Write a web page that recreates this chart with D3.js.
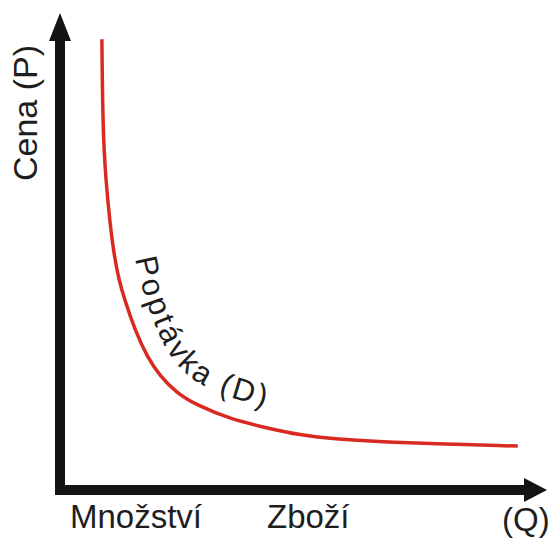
<!DOCTYPE html>
<head>
  <meta charset="utf-8">
  <script src="https://d3js.org/d3.v7.min.js"></script>
  <style>
    body { margin:0; padding:0; background:#fff; }
    text { font-family: "Liberation Sans", Arial, sans-serif; fill:#1e1e1e; }
  </style>
</head>
<body>
  <svg id="chart" width="553" height="539"></svg>
  <script>
    var width  = 553;
    var height = 539;

    // demand curve (quantity, price), 0..100 on both axes
    var quantity = [8.6, 8.8, 9.4, 10.3, 11.1, 12.1, 13.3, 15.4, 17.9, 20.5, 24.0, 28.1, 34.9, 42.5, 49.3, 56.1, 69.8, 94.0];
    var price    = [94.5, 75.5, 65.0, 55.6, 49.3, 44.0, 39.8, 33.5, 27.9, 23.9, 20.3, 17.8, 14.9, 13.0, 11.5, 10.7, 9.9, 9.2];

    var yTitle   = "Cena (P)";
    var xLabels  = ["Množství", "Zboží", "(Q)"];
    var curveLabel = "Poptávka (D)";

    var svg = d3.select("#chart");

    var x = d3.scaleLinear().domain([0, 100]).range([60, 547]);
    var y = d3.scaleLinear().domain([0, 100]).range([490, 13]);

    var points = quantity.map(function(q, i) { return [q, price[i]]; });

    var line = d3.line()
        .x(function(d) { return x(d[0]); })
        .y(function(d) { return y(d[1]); })
        .curve(d3.curveBasis);

    var demand = svg.append("path")
        .attr("d", line(points))
        .attr("fill", "none")
        .attr("stroke", "#d92a22")
        .attr("stroke-width", 3.5);

    // axes with arrow heads
    var axisColor = "#141414";
    svg.append("line")
        .attr("x1", x(0)).attr("y1", y(0) + 5)
        .attr("x2", x(0)).attr("y2", y(100) + 25)
        .attr("stroke", axisColor).attr("stroke-width", 10);
    svg.append("line")
        .attr("x1", x(0) - 5).attr("y1", y(0))
        .attr("x2", x(100) - 22).attr("y2", y(0))
        .attr("stroke", axisColor).attr("stroke-width", 10);

    svg.append("path")
        .attr("d", d3.line()([[x(0), y(100)], [x(0) - 11, y(100) + 28], [x(0) + 11, y(100) + 28]]) + "Z")
        .attr("fill", axisColor);
    svg.append("path")
        .attr("d", d3.line()([[x(100), y(0)], [x(100) - 23, y(0) - 12], [x(100) - 23, y(0) + 12]]) + "Z")
        .attr("fill", axisColor);

    // axis labels
    svg.append("text")
        .attr("transform", "translate(37,181) rotate(-90)")
        .attr("font-size", 34)
        .text(yTitle);

    svg.append("text").attr("x", 70).attr("y", 528).attr("font-size", 33).text(xLabels[0]);
    svg.append("text").attr("x", 267).attr("y", 528).attr("font-size", 33).text(xLabels[1]);
    svg.append("text").attr("x", 502).attr("y", 531).attr("font-size", 33).text(xLabels[2]);

    // label following the curve, offset to its upper-right side
    var node = demand.node();
    var total = node.getTotalLength();
    var offset = 20;
    var shifted = [];
    for (var s = 0; s <= total; s += 2) {
      var p0 = node.getPointAtLength(Math.max(0, s - 1));
      var p1 = node.getPointAtLength(Math.min(total, s + 1));
      var p  = node.getPointAtLength(s);
      var dx = p1.x - p0.x, dy = p1.y - p0.y;
      var len = Math.sqrt(dx * dx + dy * dy) || 1;
      shifted.push([p.x + dy / len * offset, p.y - dx / len * offset]);
    }

    svg.append("path")
        .attr("id", "labelPath")
        .attr("d", d3.line().curve(d3.curveBasis)(shifted))
        .attr("fill", "none");

    svg.append("text")
        .attr("font-size", 31)
        .attr("letter-spacing", 3)
        .append("textPath")
        .attr("href", "#labelPath")
        .attr("startOffset", 220)
        .text(curveLabel);
  </script>
</body>
